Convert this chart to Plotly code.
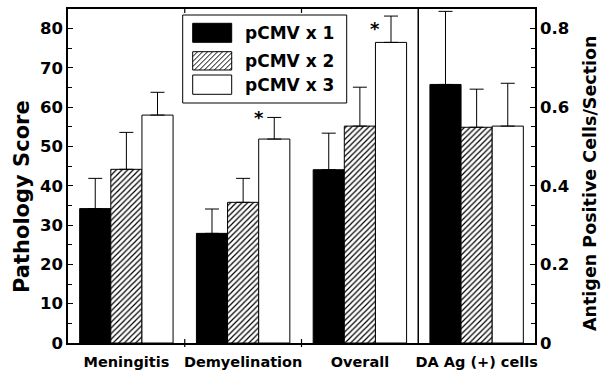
import plotly.graph_objects as go

# ---------------- data ----------------
categories = ["Meningitis", "Demyelination", "Overall"]
da_category = ["DA Ag (+) cells"]
series_names = ["pCMV x 1", "pCMV x 2", "pCMV x 3"]

path_x1 = [34.2, 27.9, 44.1]
path_x1_err = [7.7, 6.2, 9.3]
path_x2 = [44.2, 35.8, 55.2]
path_x2_err = [9.4, 6.1, 9.9]
path_x3 = [58.0, 51.9, 76.5]
path_x3_err = [5.8, 5.5, 6.7]

da_values = [0.658, 0.549, 0.552]
da_err = [0.186, 0.097, 0.109]

# significance stars (category index, score level)
star_index = [1, 2]
star_level = [57.4, 80.1]

left_ticks = [0, 10, 20, 30, 40, 50, 60, 70, 80]
right_ticks = [0, 0.2, 0.4, 0.6, 0.8]
right_ticktext = ["0", "0.2", "0.4", "0.6", "0.8"]

# ---------------- style ----------------
W, H = 604, 370
ML, MR, MT, MB = 68, 69, 9, 27
PW, PH = W - ML - MR, H - MT - MB
FONT = "DejaVu Sans"
bar_w = 0.8 / 3
offsets = [-0.4, -0.4 + bar_w, -0.4 + 2 * bar_w]
styles = [
    dict(color="black", pattern=None),
    dict(color="white", pattern=dict(shape="/", fgcolor="black", bgcolor="white",
                                     size=4, solidity=0.3, fillmode="replace")),
    dict(color="white", pattern=None),
]


def px2paper_x(px):
    return (px - ML) / PW


def px2paper_y(py):
    return (H - MB - py) / PH


fig = go.Figure()
path_vals = [path_x1, path_x2, path_x3]
path_errs = [path_x1_err, path_x2_err, path_x3_err]

for i in range(3):
    mk = dict(color=styles[i]["color"], line=dict(color="black", width=1))
    if styles[i]["pattern"]:
        mk["pattern"] = styles[i]["pattern"]
    fig.add_trace(go.Bar(
        x=categories, y=path_vals[i], name=series_names[i],
        width=bar_w, offset=offsets[i], marker=mk, showlegend=False,
        error_y=dict(type="data", array=path_errs[i], arrayminus=[0] * len(categories),
                     symmetric=False, color="black", thickness=1, width=7),
        xaxis="x", yaxis="y",
    ))
    fig.add_trace(go.Bar(
        x=da_category, y=[da_values[i]], name=series_names[i],
        width=bar_w, offset=offsets[i], marker=mk, showlegend=False,
        error_y=dict(type="data", array=[da_err[i]], arrayminus=[0],
                     symmetric=False, color="black", thickness=1, width=7),
        xaxis="x", yaxis="y2",
    ))

all_cats = categories + da_category
tickfont = dict(family=FONT, size=16.5, color="black", weight="bold")

fig.update_layout(
    width=W, height=H,
    margin=dict(l=ML, r=MR, t=MT, b=MB, pad=0, autoexpand=False),
    paper_bgcolor="white", plot_bgcolor="white",
    barmode="overlay",
    font=dict(family=FONT, color="black", weight="bold"),
    xaxis=dict(
        type="category", categoryorder="array", categoryarray=all_cats,
        range=[-0.5, 3.5], showline=True, linecolor="black", linewidth=1.5,
        mirror=True, ticks="", showgrid=False, zeroline=False,
        ticklabelstandoff=5, automargin=False,
        tickfont=dict(family=FONT, size=14.5, color="black", weight="bold"),
    ),
    yaxis=dict(
        range=[0, 85], tickvals=left_ticks, ticks="inside", ticklen=5,
        tickwidth=1, tickcolor="black", automargin=False,
        minor=dict(dtick=5, tick0=0, ticks="inside", ticklen=4, tickcolor="black"),
        showline=True, linecolor="black", linewidth=1.5, showgrid=False,
        zeroline=False, tickfont=tickfont,
    ),
    yaxis2=dict(
        overlaying="y", side="right", range=[0, 0.85],
        tickvals=right_ticks, ticktext=right_ticktext, automargin=False,
        ticks="inside", ticklen=5, tickwidth=1, tickcolor="black",
        minor=dict(dtick=0.05, tick0=0, ticks="inside", ticklen=4, tickcolor="black"),
        showline=True, linecolor="black", linewidth=1.5, showgrid=False,
        zeroline=False, tickfont=tickfont,
    ),
)

shapes = []
# divider between pathology groups and antigen group
shapes.append(dict(type="line", xref="x", yref="paper", x0=2.5, x1=2.5, y0=0, y1=1,
                   line=dict(color="black", width=1.5)))
# group boundary ticks
for b in [0.5, 1.5]:
    shapes.append(dict(type="line", xref="x", yref="paper", x0=b, x1=b,
                       y0=-4 / PH, y1=4 / PH, line=dict(color="black", width=1.2)))
    shapes.append(dict(type="line", xref="x", yref="paper", x0=b, x1=b,
                       y0=1, y1=1 - 4 / PH, line=dict(color="black", width=1.2)))

# manual legend
box = (182.7, 15, 346.7, 103)
shapes.append(dict(type="rect", xref="paper", yref="paper",
                   x0=px2paper_x(box[0]), x1=px2paper_x(box[2]),
                   y0=px2paper_y(box[3]), y1=px2paper_y(box[1]),
                   line=dict(color="black", width=1), fillcolor="white", layer="above"))
sw_x0, sw_x1 = 192.7, 231.7
rows = [(23.3, 42.3), (51.7, 70.0), (75.0, 94.3)]
fills = ["black", "white", "white"]
for (ya, yb), fc in zip(rows, fills):
    shapes.append(dict(type="rect", xref="paper", yref="paper",
                       x0=px2paper_x(sw_x0), x1=px2paper_x(sw_x1),
                       y0=px2paper_y(yb), y1=px2paper_y(ya),
                       line=dict(color="black", width=1), fillcolor=fc, layer="above"))
# hatch lines in the second swatch
ya, yb = rows[1]
segs = []
spacing = 5.0
c = sw_x0 + ya
while c < sw_x1 + yb:
    xa = max(sw_x0, c - yb)
    xb = min(sw_x1, c - ya)
    if xb - xa > 0.5:
        segs.append("M%.5f,%.5f L%.5f,%.5f" % (px2paper_x(xa), px2paper_y(c - xa),
                                              px2paper_x(xb), px2paper_y(c - xb)))
    c += spacing
shapes.append(dict(type="path", xref="paper", yref="paper", path=" ".join(segs),
                   line=dict(color="black", width=1), layer="above"))
fig.update_layout(shapes=shapes)

annotations = []
for (ya, yb), name in zip(rows, series_names):
    annotations.append(dict(xref="paper", yref="paper", x=px2paper_x(242.7),
                            y=px2paper_y((ya + yb) / 2), text=name, showarrow=False,
                            xanchor="left", yanchor="middle",
                            font=dict(family=FONT, size=17, color="black", weight="bold")))
# significance stars
for idx, lvl in zip(star_index, star_level):
    annotations.append(dict(xref="x", yref="y", x=idx + offsets[2] + bar_w / 2 - 0.135,
                            y=lvl, text="*", showarrow=False, xanchor="center",
                            yanchor="middle", yshift=0,
                            font=dict(family=FONT, size=18, color="black", weight="bold")))
# axis titles
annotations.append(dict(xref="paper", yref="paper", x=px2paper_x(22), y=px2paper_y(197),
                        text="Pathology Score", textangle=-90, showarrow=False,
                        xanchor="center", yanchor="middle",
                        font=dict(family=FONT, size=21, color="black", weight="bold")))
annotations.append(dict(xref="paper", yref="paper", x=px2paper_x(590), y=px2paper_y(183),
                        text="Antigen Positive Cells/Section", textangle=-90, showarrow=False,
                        xanchor="center", yanchor="middle",
                        font=dict(family=FONT, size=17.5, color="black", weight="bold")))
fig.update_layout(annotations=annotations)

fig.write_html("out.html")
